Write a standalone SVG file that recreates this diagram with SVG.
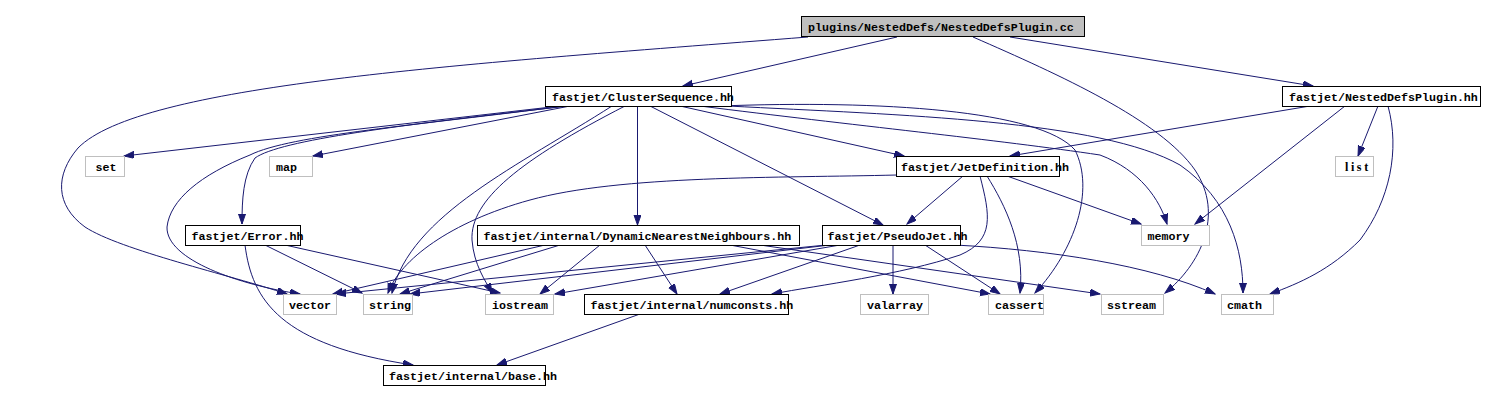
<svg xmlns="http://www.w3.org/2000/svg" width="1485" height="401" viewBox="0 0 1485 401">
<style>
.n rect{fill:#fff;stroke:#000;stroke-width:1}
.n.g rect{stroke:#bfbfbf}
.n.root rect{fill:#bfbfbf}
.n text{font-family:"Liberation Mono","DejaVu Sans Mono",monospace;font-weight:bold;font-size:11.67px;fill:#000}
.n text.serif{font-family:"Liberation Serif",serif;letter-spacing:2.6px;font-size:12px}
#edges path{fill:none;stroke:#191970;stroke-width:1;marker-end:url(#ah)}
</style>
<defs>
<marker id="ah" markerUnits="userSpaceOnUse" markerWidth="11" markerHeight="8" refX="10" refY="3.5" orient="auto">
<path d="M0,0 L10,3.5 L0,7 z" fill="#191970" stroke="#191970" stroke-width="1"/>
</marker>
</defs>
<rect width="1485" height="401" fill="#fff"/>
<g id="edges">
<path d="M808,37 C450,65 140,85 78,148 C55,175 55,205 85,227 C120,250 230,275 287,294"/>
<path d="M897,37 L683,86"/>
<path d="M1010,37 L1313,86"/>
<path d="M973,37 C1060,75 1160,120 1195,170 C1225,215 1200,265 1165,293"/>
<path d="M560,106 L124,156"/>
<path d="M570,106 L313,156"/>
<path d="M565,106 C420,125 290,135 250,155 C200,175 170,200 167,227 C166,260 240,285 300,294"/>
<path d="M568,106 C400,125 280,140 255,158 C243,175 242,200 242,224"/>
<path d="M612,106 C520,165 410,215 392,293"/>
<path d="M625,106 C520,160 470,200 472,240 C474,265 485,280 492,293"/>
<path d="M637.5,106 L637.5,225"/>
<path d="M650,106 L883,225"/>
<path d="M680,106 L904,156"/>
<path d="M700,106 C850,125 1000,140 1100,155 C1140,170 1160,200 1167,224"/>
<path d="M720,106 C880,100 1040,110 1075,150 C1095,190 1075,250 1035,293"/>
<path d="M728,106 C900,115 1100,120 1180,165 C1230,200 1243,250 1243,293"/>
<path d="M1310,106 L1010,156"/>
<path d="M1345,106 L1195,224"/>
<path d="M1378,106 L1358,156"/>
<path d="M1388,106 C1400,150 1390,200 1360,240 C1330,270 1300,283 1270,294"/>
<path d="M963,176 L907,224"/>
<path d="M897,175 C780,178 620,175 530,200 C450,222 400,260 388,293"/>
<path d="M980,176 C990,215 995,240 960,255 C900,275 820,285 772,294"/>
<path d="M987,176 C1005,205 1025,245 1020,293"/>
<path d="M1007,176 L1141,224"/>
<path d="M265,245 L362,293"/>
<path d="M285,245 L500,293"/>
<path d="M245,245 C252,300 280,345 413,365"/>
<path d="M640,314 L497,365"/>
<path d="M545,245 L333,294"/>
<path d="M560,245 L400,294"/>
<path d="M600,245 L540,294"/>
<path d="M645,245 L677,294"/>
<path d="M730,245 L990,294"/>
<path d="M760,245 L1100,294"/>
<path d="M826,245 L336,294"/>
<path d="M830,245 L410,294"/>
<path d="M840,245 L555,294"/>
<path d="M860,245 L720,294"/>
<path d="M893,245 L893,294"/>
<path d="M925,245 L1000,294"/>
<path d="M955,245 C1050,250 1150,265 1215,294"/>
</g>
<g id="root" class="n root"><rect x="801.5" y="16.5" width="283" height="20"/><text x="808" y="31">plugins/NestedDefs/NestedDefsPlugin.cc</text></g>
<g id="clusterseq" class="n"><rect x="545.5" y="86.5" width="186" height="20"/><text x="552" y="101">fastjet/ClusterSequence.hh</text></g>
<g id="nesteddefsplugin" class="n"><rect x="1282.5" y="86.5" width="198" height="20"/><text x="1289" y="101">fastjet/NestedDefsPlugin.hh</text></g>
<g id="set" class="n g"><rect x="85.5" y="156.5" width="39" height="20"/><text x="95.5" y="171">set</text></g>
<g id="map" class="n g"><rect x="269.5" y="156.5" width="43" height="20"/><text x="276" y="171">map</text></g>
<g id="jetdef" class="n"><rect x="896.5" y="156.5" width="163" height="20"/><text x="901" y="171">fastjet/JetDefinition.hh</text></g>
<g id="list" class="n g"><rect x="1335.5" y="156.5" width="38" height="20"/><text class="serif" x="1345" y="171">list</text></g>
<g id="error" class="n"><rect x="185.5" y="225.5" width="115" height="20"/><text x="191.5" y="240">fastjet/Error.hh</text></g>
<g id="dnn" class="n"><rect x="477.5" y="225.5" width="322" height="20"/><text x="483.5" y="240">fastjet/internal/DynamicNearestNeighbours.hh</text></g>
<g id="pseudojet" class="n"><rect x="822.5" y="225.5" width="138" height="20"/><text x="827.5" y="240">fastjet/PseudoJet.hh</text></g>
<g id="memory" class="n g"><rect x="1141.5" y="225.5" width="68" height="20"/><text x="1147.5" y="240">memory</text></g>
<g id="vector" class="n g"><rect x="283.5" y="294.5" width="53" height="20"/><text x="289" y="309">vector</text></g>
<g id="string" class="n g"><rect x="363.5" y="294.5" width="49" height="20"/><text x="369" y="309">string</text></g>
<g id="iostream" class="n g"><rect x="485.5" y="294.5" width="68" height="20"/><text x="492" y="309">iostream</text></g>
<g id="numconsts" class="n"><rect x="584.5" y="294.5" width="204" height="20"/><text x="590.5" y="309">fastjet/internal/numconsts.hh</text></g>
<g id="valarray" class="n g"><rect x="860.5" y="294.5" width="68" height="20"/><text x="867" y="309">valarray</text></g>
<g id="cassert" class="n g"><rect x="988.5" y="294.5" width="55" height="20"/><text x="995" y="309">cassert</text></g>
<g id="sstream" class="n g"><rect x="1101.5" y="294.5" width="62" height="20"/><text x="1107" y="309">sstream</text></g>
<g id="cmath" class="n g"><rect x="1221.5" y="294.5" width="52" height="20"/><text x="1227" y="309">cmath</text></g>
<g id="base" class="n"><rect x="383.5" y="365.5" width="162" height="20"/><text x="389" y="380">fastjet/internal/base.hh</text></g>
</svg>
